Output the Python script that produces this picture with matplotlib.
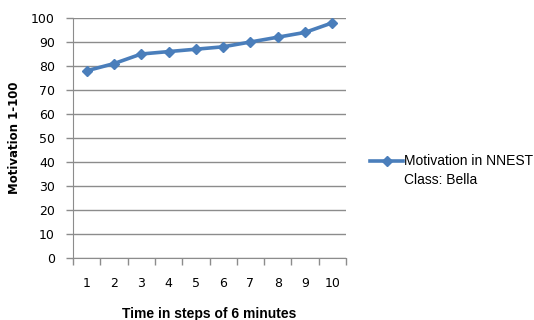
import matplotlib.pyplot as plt
from matplotlib.lines import Line2D
import numpy as np

steps = [1, 2, 3, 4, 5, 6, 7, 8, 9, 10]
motivation = [78, 81, 85, 86, 87, 88, 90, 92, 94, 98]
series_label = "Motivation in NNEST\nClass: Bella"

blue = "#4A7EBB"
grid_grey = "#8C8C8C"
W, H = 534, 320

fig = plt.figure(figsize=(W / 100, H / 100), dpi=100)
ax = fig.add_axes([73 / W, 1 - 258 / H, (346 - 73) / W, (258 - 18) / H])

x = np.arange(len(steps))
ax.plot(x, motivation, color=blue, linewidth=2.6, marker="D", markersize=5.5,
        markerfacecolor=blue, markeredgecolor=blue)

ax.set_xlim(-0.5, len(steps) - 0.5)
ax.set_ylim(0, 100)
ax.set_yticks(range(0, 101, 10))
ax.yaxis.grid(True, color=grid_grey, linewidth=1)
ax.set_axisbelow(True)

# category axis: ticks between categories, labels centred under each
ax.set_xticks(np.arange(-0.5, len(steps), 1.0))
ax.set_xticklabels([])
ax.set_xticks(x, minor=True)
ax.set_xticklabels([str(s) for s in steps], minor=True)
ax.tick_params(axis="x", which="minor", length=0, pad=14, labelsize=9)
ax.tick_params(axis="x", which="major", length=5, color=grid_grey, width=1)
ax.tick_params(axis="y", length=5, color=grid_grey, width=1, labelsize=9, pad=8)

for side in ("top", "right"):
    ax.spines[side].set_visible(False)
ax.spines["left"].set_color(grid_grey)
ax.spines["bottom"].set_color(grid_grey)

ax.set_ylabel("Motivation 1-100", fontsize=8.5, fontweight="bold", labelpad=7)
ax.set_xlabel("Time in steps of 6 minutes", fontsize=10, fontweight="bold",
              family="Liberation Sans", labelpad=12)

# legend: line sample beside the first line of a two-line label
key_y = 1 - 161 / H
fig.add_artist(Line2D([370 / W, 403 / W], [key_y, key_y], color=blue,
                      linewidth=2.6, transform=fig.transFigure))
fig.add_artist(Line2D([386.5 / W], [key_y], color=blue, marker="D",
                      markersize=5.5, transform=fig.transFigure))
fig.text(404 / W, 1 - 154 / H, series_label, family="Liberation Sans",
         fontsize=10, va="top", ha="left", linespacing=1.45)

fig.savefig("out.png", dpi=100)
